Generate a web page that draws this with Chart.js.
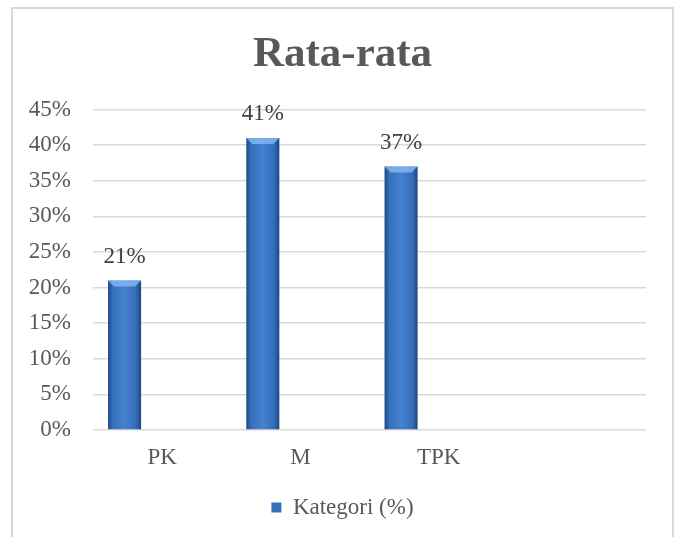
<!DOCTYPE html>
<html>
<head>
<meta charset="utf-8">
<script src="https://cdn.jsdelivr.net/npm/chart.js@4/dist/chart.umd.min.js"></script>
<style>
  body { margin: 0; background: #fff; }
  #box {
    position: absolute; left: 11px; top: 7px;
    width: 659px; height: 540px;
    border: 2px solid #d9d9d9; border-bottom: none;
    overflow: hidden;
  }
</style>
</head>
<body>
<div id="box"><canvas id="chart" width="659" height="530"></canvas></div>
<script>
'use strict';

var categories = ['PK', 'M', 'TPK', ''];
var kategoriValues = [21, 41, 37, null];
var emptySeries = [null, null, null, null];
var yTicks = [0, 5, 10, 15, 20, 25, 30, 35, 40, 45];

var serif = "'Liberation Serif', 'Times New Roman', serif";
var grey = '#595959';

// horizontal shading on each bar, like the Excel bevel
var barShade = {
  id: 'barShade',
  beforeDatasetsDraw: function(chart) {
    var ctx = chart.ctx;
    var meta = chart.getDatasetMeta(0);
    meta.data.forEach(function(bar, i) {
      if (kategoriValues[i] === null) return;
      var x0 = bar.x - bar.width / 2;
      var g = ctx.createLinearGradient(x0, 0, x0 + bar.width, 0);
      g.addColorStop(0, '#1f4a85');
      g.addColorStop(0.15, '#3670bc');
      g.addColorStop(0.5, '#4482d0');
      g.addColorStop(0.85, '#346cb6');
      g.addColorStop(1, '#1c4580');
      bar.options = Object.assign({}, bar.options, { backgroundColor: g });
    });
  },
  afterDatasetsDraw: function(chart) {
    // light bevel at the top of each bar
    var ctx = chart.ctx;
    var meta = chart.getDatasetMeta(0);
    ctx.save();
    meta.data.forEach(function(bar, i) {
      if (kategoriValues[i] === null) return;
      var l = bar.x - bar.width / 2, r = bar.x + bar.width / 2;
      var d = 6;
      ctx.fillStyle = 'rgba(140,190,245,0.75)';
      ctx.beginPath();
      ctx.moveTo(l, bar.y);
      ctx.lineTo(r, bar.y);
      ctx.lineTo(r - d, bar.y + d);
      ctx.lineTo(l + d, bar.y + d);
      ctx.closePath();
      ctx.fill();
    });
    ctx.restore();
  }
};

// value labels above bars
var valueLabels = {
  id: 'valueLabels',
  afterDatasetsDraw: function(chart) {
    var ctx = chart.ctx;
    var meta = chart.getDatasetMeta(0);
    ctx.save();
    ctx.font = '23px ' + serif;
    ctx.fillStyle = '#404040';
    ctx.textAlign = 'center';
    ctx.textBaseline = 'middle';
    meta.data.forEach(function(bar, i) {
      var v = kategoriValues[i];
      if (v === null) return;
      ctx.fillText(v + '%', bar.x, bar.y - 24);
    });
    ctx.restore();
  }
};

var ctx = document.getElementById('chart').getContext('2d');

new Chart(ctx, {
  type: 'bar',
  data: {
    labels: categories,
    datasets: [
      { label: 'Kategori (%)', data: kategoriValues, backgroundColor: '#3670bc' },
      { label: 's2', data: emptySeries, backgroundColor: '#3670bc' },
      { label: 's3', data: emptySeries, backgroundColor: '#3670bc' }
    ]
  },
  options: {
    responsive: false,
    animation: false,
    categoryPercentage: 0.815,
    barPercentage: 0.88,
    layout: { padding: { left: 0, right: 0, top: 0, bottom: 10 } },
    plugins: {
      title: {
        display: true,
        text: 'Rata-rata',
        color: grey,
        font: { family: serif, size: 43, weight: 'bold' },
        padding: { top: 20, bottom: 29 }
      },
      legend: {
        position: 'bottom',
        labels: {
          color: grey,
          font: { family: serif, size: 23 },
          boxWidth: 10,
          boxHeight: 10,
          filter: function(item) { return item.datasetIndex === 0; }
        }
      },
      tooltip: { enabled: false }
    },
    scales: {
      x: {
        grid: { display: false },
        border: { display: false },
        ticks: { color: grey, font: { family: serif, size: 23 }, padding: 6 },
        afterFit: function(scale) { scale.height = 56; }
      },
      y: {
        min: 0,
        max: 45,
        afterBuildTicks: function(scale) {
          scale.ticks = yTicks.map(function(v) { return { value: v }; });
        },
        grid: { color: '#d9d9d9', lineWidth: 1.5, drawTicks: false },
        border: { display: false },
        ticks: {
          color: grey,
          font: { family: serif, size: 23 },
          padding: 22,
          callback: function(v) { return v + '%'; }
        },
        afterFit: function(scale) { scale.width = 80; }
      },
      // empty right margin so title and legend stay centred on the box
      yRight: {
        position: 'right',
        grid: { display: false },
        border: { display: false },
        ticks: { display: false },
        afterFit: function(scale) { scale.width = 26; }
      }
    }
  },
  plugins: [barShade, valueLabels]
});
</script>
</body>
</html>
